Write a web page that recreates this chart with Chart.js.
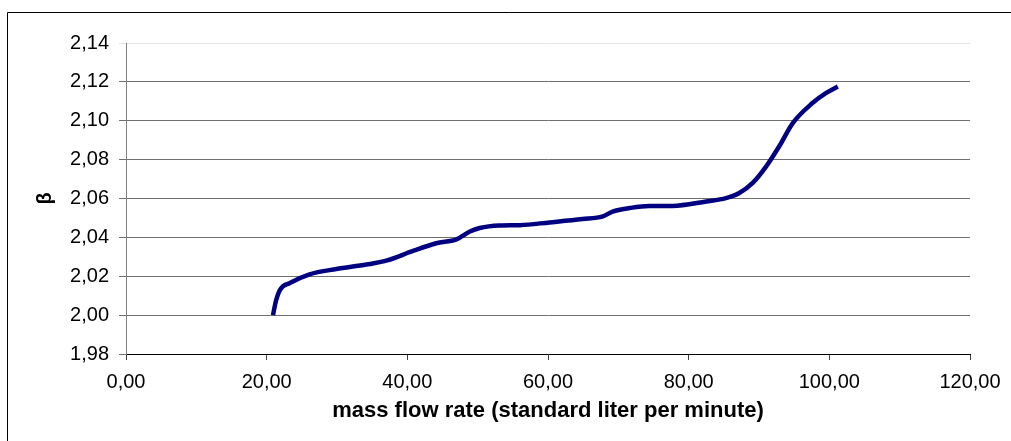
<!DOCTYPE html>
<html><head><meta charset="utf-8">
<script src="https://cdn.jsdelivr.net/npm/chart.js@4.4.1/dist/chart.umd.min.js"></script>
<style>html,body{margin:0;padding:0;background:#fff}#wrap{width:1011px;height:441px;position:relative}</style>
</head><body><div id="wrap"><canvas id="c" width="1011" height="441"></canvas></div>
<script>
const massFlow = [20.9, 21.3, 21.9, 23.3, 26.1, 29.9, 34.2, 37.0, 40.8, 44.1, 47.0, 48.9, 50.3, 53.1, 56.0, 60.2, 64.9, 67.8, 69.2, 71.6, 74.4, 77.7, 82.5, 85.3, 87.2, 89.1, 91.0, 92.9, 94.8, 97.6, 99.5, 101.2];
const beta = [2.000, 2.007, 2.013, 2.0165, 2.021, 2.0237, 2.026, 2.028, 2.033, 2.037, 2.039, 2.043, 2.0448, 2.0461, 2.0463, 2.0477, 2.0494, 2.0508, 2.0533, 2.0551, 2.0562, 2.0562, 2.0585, 2.0602, 2.0628, 2.068, 2.0764, 2.087, 2.0988, 2.1091, 2.1142, 2.1176];
const xTicks = [0, 20, 40, 60, 80, 100, 120];
const yTicks = [1.98, 2.00, 2.02, 2.04, 2.06, 2.08, 2.10, 2.12, 2.14];
const xTitle = 'mass flow rate (standard liter per minute)';
const yTitle = 'β';

const fmt = v => Number(v).toFixed(2).replace('.', ',');
const pts = massFlow.map((x, i) => ({x, y: beta[i]}));

const frame = {
  id: 'frame',
  afterDraw(chart) {
    const ctx = chart.ctx;
    ctx.save();
    ctx.strokeStyle = '#000';
    ctx.lineWidth = 1;
    ctx.beginPath();
    ctx.moveTo(7.5, 441);
    ctx.lineTo(7.5, 12.5);
    ctx.lineTo(1011, 12.5);
    ctx.stroke();
    ctx.restore();
  }
};

new Chart(document.getElementById('c'), {
  type: 'scatter',
  data: { datasets: [{ data: pts, showLine: true, borderColor: '#000080', borderWidth: 4.5,
    pointRadius: 0, cubicInterpolationMode: 'monotone', fill: false }] },
  options: {
    responsive: false, animation: false,
    layout: { padding: { left: 0, top: 43, right: 41, bottom: 0 } },
    plugins: { legend: { display: false }, tooltip: { enabled: false } },
    scales: {
      x: {
        type: 'linear', min: 0, max: 120,
        afterBuildTicks: s => { s.ticks = xTicks.map(v => ({value: v})); },
        afterFit: s => { s.height = 87; },
        grid: { drawOnChartArea: false, drawTicks: true, tickLength: 6, color: '#404040' },
        border: { color: '#000', width: 1 },
        ticks: { callback: v => fmt(v), color: '#000', font: { family: 'Liberation Sans', size: 20 }, padding: 10, maxRotation: 0 },
        title: { display: true, text: xTitle, color: '#000', font: { family: 'Liberation Sans', size: 22, weight: 'bold' }, padding: { top: 4, bottom: 17 } }
      },
      y: {
        type: 'linear', min: 1.98, max: 2.14,
        afterBuildTicks: s => { s.ticks = yTicks.map(v => ({value: v})); },
        afterFit: s => { s.width = 126; },
        grid: { drawTicks: true, tickLength: 7, color: ctx => (ctx.tick && Math.abs(ctx.tick.value - 2.14) < 1e-6) ? '#e4e4e4' : '#707070' },
        border: { color: '#808080', width: 1 },
        ticks: { callback: v => fmt(v), color: '#000', font: { family: 'Liberation Sans', size: 20 }, padding: 10 },
        title: { display: true, text: yTitle, color: '#000', font: { family: 'Liberation Sans', size: 20, weight: 'bold' }, padding: { top: 33 } }
      }
    }
  },
  plugins: [frame]
});
</script></body></html>
